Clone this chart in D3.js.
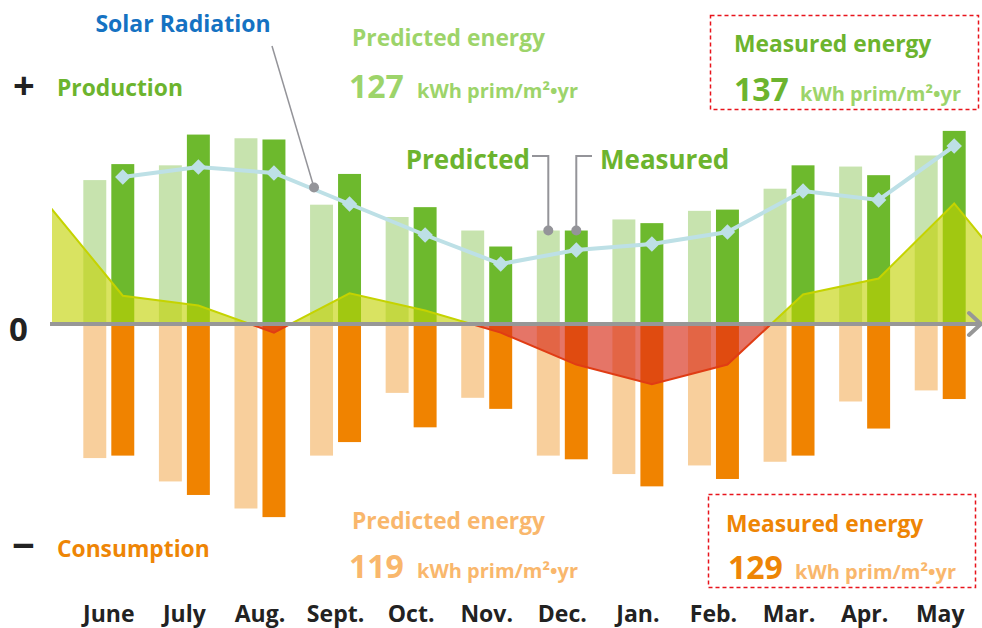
<!DOCTYPE html>
<html>
<head>
<meta charset="utf-8">
<script src="https://cdn.jsdelivr.net/npm/d3@7"></script>
<style>
  body { margin: 0; background: #fff; }
  svg { display: block; font-family: "Open Sans", "Noto Sans", sans-serif; font-weight: 700; }
</style>
</head>
<body>
<svg id="chart"></svg>
<script>
// monthly values, kWh prim/m2
const months = ["June", "July", "Aug.", "Sept.", "Oct.", "Nov.", "Dec.", "Jan.", "Feb.", "Mar.", "Apr.", "May"];
const predictedProduction = [11.7, 12.9, 15.1, 9.7, 8.7, 7.6, 7.6, 8.5, 9.2, 11.0, 12.8, 13.7];
const measuredProduction  = [13.0, 15.4, 15.0, 12.2, 9.5, 6.3, 7.6, 8.2, 9.3, 12.9, 12.1, 15.7];
const predictedConsumption = [10.9, 12.8, 15.0, 10.7, 5.6, 6.0, 10.7, 12.2, 11.5, 11.2, 6.3, 5.4];
const measuredConsumption  = [10.7, 13.9, 15.7, 9.6, 8.4, 6.9, 11.0, 13.2, 12.6, 10.7, 8.5, 6.1];
const netBalance = [2.3, 1.5, -0.7, 2.5, 1.1, -0.7, -3.3, -4.9, -3.3, 2.4, 3.7, 9.8];
const solarRadiation = [147, 157, 151, 120, 89, 60, 74, 80, 92, 133, 124, 178];
const totals = {predProd: 127, measProd: 137, predCons: 119, measCons: 129};
const unit = "kWh prim/m²•yr";

const width = 982, height = 628;
const zeroY = 324;

const svg = d3.select("#chart")
    .attr("width", width)
    .attr("height", height);

const x = d3.scaleBand()
    .domain(months)
    .range([71, 978]);

const sub = d3.scaleBand()
    .domain(["predicted", "measured"])
    .range([0, x.bandwidth()])
    .paddingInner(0.18)
    .paddingOuter(0.44);

const y = d3.scaleLinear()
    .domain([-16, 16])
    .range([zeroY + 16 * 12.3, zeroY - 16 * 12.3]);

const ySolar = d3.scaleLinear()
    .domain([0, 200])
    .range([zeroY, zeroY - 200]);

const colors = {
    predProd: "#c7e3ae",
    measProd: "#6db92d",
    predCons: "#f8cf9c",
    measCons: "#f08300"
};

const rows = months.map((m, i) => ({
    month: m,
    predProd: predictedProduction[i],
    measProd: measuredProduction[i],
    predCons: predictedConsumption[i],
    measCons: measuredConsumption[i],
    net: netBalance[i],
    solar: solarRadiation[i]
}));

const cx = (m, k) => x(m) + sub(k) + sub.bandwidth() / 2;

// bars
const bars = svg.append("g");
const series = [
    {key: "predProd", pos: "predicted", up: true},
    {key: "measProd", pos: "measured", up: true},
    {key: "predCons", pos: "predicted", up: false},
    {key: "measCons", pos: "measured", up: false}
];
series.forEach(s => {
    bars.selectAll(".bar-" + s.key)
        .data(rows)
        .enter().append("rect")
        .attr("x", d => x(d.month) + sub(s.pos))
        .attr("width", sub.bandwidth())
        .attr("y", d => s.up ? y(d[s.key]) : y(0))
        .attr("height", d => s.up ? y(0) - y(d[s.key]) : y(-d[s.key]) - y(0))
        .attr("fill", colors[s.key]);
});

// net balance area (wraps around the year, clipped to the plot)
const step = x.step();
const netPts = [{px: cx(months[0], "measured") - step, v: netBalance[11]}]
    .concat(rows.map(d => ({px: cx(d.month, "measured"), v: d.net})))
    .concat([{px: cx(months[11], "measured") + step, v: netBalance[0]}]);

const defs = svg.append("defs");
defs.append("clipPath").attr("id", "clipUp")
    .append("rect").attr("x", 52).attr("y", 0).attr("width", 930).attr("height", zeroY);
defs.append("clipPath").attr("id", "clipDown")
    .append("rect").attr("x", 52).attr("y", zeroY).attr("width", 930).attr("height", 300);

const area = d3.area().x(d => d.px).y0(y(0)).y1(d => y(d.v));
const line = d3.line().x(d => d.px).y(d => y(d.v));

const netG = svg.append("g");
netG.append("path").datum(netPts).attr("d", area)
    .attr("clip-path", "url(#clipUp)")
    .attr("fill", "rgb(194,210,0)").attr("fill-opacity", 0.62);
netG.append("path").datum(netPts).attr("d", line)
    .attr("clip-path", "url(#clipUp)")
    .attr("fill", "none").attr("stroke", "#c5d300").attr("stroke-width", 2);
netG.append("path").datum(netPts).attr("d", area)
    .attr("clip-path", "url(#clipDown)")
    .attr("fill", "rgb(216,45,24)").attr("fill-opacity", 0.66);
netG.append("path").datum(netPts).attr("d", line)
    .attr("clip-path", "url(#clipDown)")
    .attr("fill", "none").attr("stroke", "#e03c14").attr("stroke-width", 2);

// zero axis with arrow
svg.append("line")
    .attr("x1", 50).attr("x2", 980)
    .attr("y1", y(0)).attr("y2", y(0))
    .attr("stroke", "#979797").attr("stroke-width", 4);
svg.append("path")
    .attr("d", `M969,${y(0) - 11}L981,${y(0)}L969,${y(0) + 11}`)
    .attr("fill", "none").attr("stroke", "#979797").attr("stroke-width", 4)
    .attr("stroke-linecap", "round");

// solar radiation line
const solarLine = d3.line().x(d => cx(d.month, "measured")).y(d => ySolar(d.solar));
svg.append("path").datum(rows).attr("d", solarLine)
    .attr("fill", "none").attr("stroke", "#bde0e6").attr("stroke-width", 4);
svg.selectAll(".diamond")
    .data(rows)
    .enter().append("path")
    .attr("d", d3.symbol(d3.symbolSquare, 120))
    .attr("transform", d => `translate(${cx(d.month, "measured")},${ySolar(d.solar)}) rotate(45)`)
    .attr("fill", "#bde0e6");

// leader lines
const leader = "#949499";
const t = 0.53;
const lx = cx("Aug.", "measured") + t * step;
const ly = ySolar(rows[2].solar) + t * (ySolar(rows[3].solar) - ySolar(rows[2].solar)) - 2;
svg.append("line").attr("x1", 272).attr("y1", 46).attr("x2", lx).attr("y2", ly)
    .attr("stroke", leader).attr("stroke-width", 1.5);
svg.append("circle").attr("cx", lx).attr("cy", ly).attr("r", 5).attr("fill", leader);

const decP = {x: cx("Dec.", "predicted"), y: y(rows[6].predProd)};
const decM = {x: cx("Dec.", "measured"), y: y(rows[6].measProd)};
svg.append("path").attr("d", `M532,156H${decP.x}V${decP.y}`)
    .attr("fill", "none").attr("stroke", leader).attr("stroke-width", 2);
svg.append("path").attr("d", `M592,156H${decM.x}V${decM.y}`)
    .attr("fill", "none").attr("stroke", leader).attr("stroke-width", 2);
[decP, decM].forEach(p => svg.append("circle").attr("cx", p.x).attr("cy", p.y).attr("r", 5).attr("fill", leader));

// texts
const green = "#6cb42e", lightGreen = "#9dd46a", orange = "#ee8505", lightOrange = "#f9b76c";
function txt(s, px, py, size, fill, anchor) {
    return svg.append("text").attr("x", px).attr("y", py)
        .attr("font-size", size).attr("fill", fill)
        .attr("text-anchor", anchor || "start").text(s);
}

txt("Solar Radiation", 183, 32, 23, "#1572c2", "middle");
txt("+", 13, 99, 38, "#222");
txt("Production", 57, 96, 22.8, green);
txt("0", 9, 341, 33, "#222");
txt("−", 12, 560, 40, "#222");
txt("Consumption", 57, 557, 22.8, orange);

txt("Predicted", 530, 169, 26, green, "end");
txt("Measured", 600, 169, 26, green);

txt("Predicted energy", 352, 46, 22.8, lightGreen);
txt(totals.predProd, 349, 98, 32, lightGreen);
txt(unit, 417, 98, 20, lightGreen);

svg.append("rect").attr("x", 710.5).attr("y", 15.5).attr("width", 268).attr("height", 94)
    .attr("fill", "none").attr("stroke", "#e8141c").attr("stroke-width", 1.5).attr("stroke-dasharray", "4,3");
txt("Measured energy", 734, 52, 22.8, green);
txt(totals.measProd, 734, 101, 32, green);
txt(unit, 800, 101, 20, lightGreen);

txt("Predicted energy", 352, 529, 22.8, lightOrange);
txt(totals.predCons, 349, 578, 32, lightOrange);
txt(unit, 417, 578, 20, lightOrange);

svg.append("rect").attr("x", 708.5).attr("y", 494.5).attr("width", 267).attr("height", 93)
    .attr("fill", "none").attr("stroke", "#e8141c").attr("stroke-width", 1.5).attr("stroke-dasharray", "4,3");
txt("Measured energy", 726, 532, 22.8, orange);
txt(totals.measCons, 728, 579, 32, orange);
txt(unit, 795, 579, 20, lightOrange);

// month axis
svg.append("g")
    .attr("transform", `translate(0,${622})`)
    .call(d3.axisBottom(x).tickSize(0).tickPadding(0))
    .call(g => g.select(".domain").remove())
    .selectAll("text")
    .attr("dy", 0)
    .attr("font-family", "'Open Sans', 'Noto Sans', sans-serif")
    .attr("font-weight", 700)
    .attr("font-size", 23)
    .attr("fill", "#222");
</script>
</body>
</html>
